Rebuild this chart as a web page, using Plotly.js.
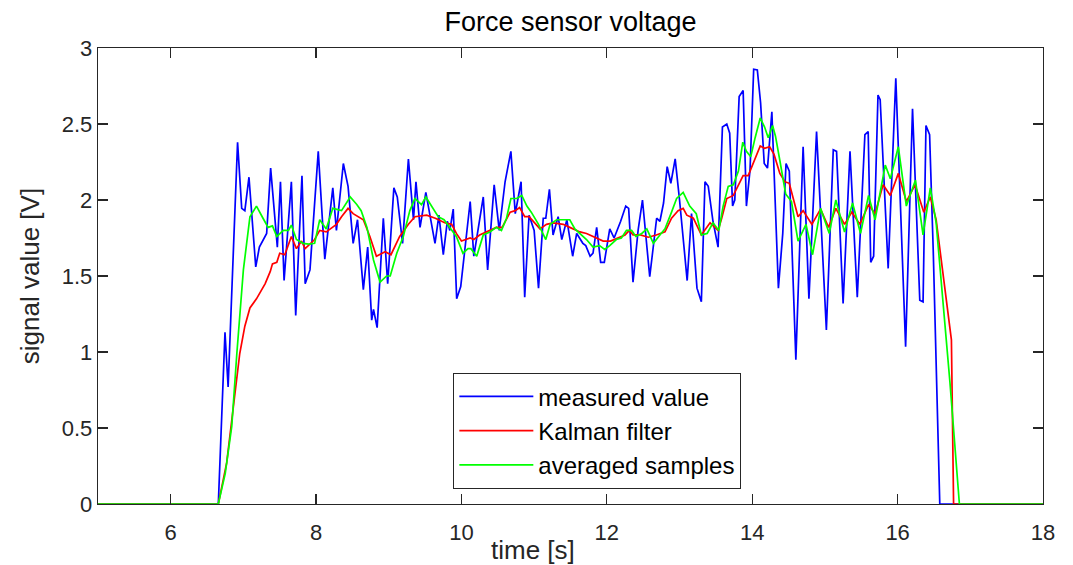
<!DOCTYPE html>
<html>
<head>
<meta charset="utf-8">
<script src="https://cdn.plot.ly/plotly-3.0.1.min.js"></script>
<style>
  html, body { margin: 0; padding: 0; background: #ffffff; }
  #chart { width: 1073px; height: 565px; }
</style>
</head>
<body>
<div id="chart"></div>
<script>
// ---- data ----
const measuredTime = [5, 6.655, 6.747, 6.79, 6.92, 6.977, 7.02, 7.077, 7.17, 7.22, 7.32, 7.375, 7.467, 7.51, 7.56, 7.66, 7.72, 7.806, 7.85, 7.916, 8.03, 8.12, 8.23, 8.28, 8.375, 8.44, 8.51, 8.57, 8.65, 8.71, 8.765, 8.79, 8.84, 8.925, 8.985, 9.07, 9.117, 9.19, 9.27, 9.34, 9.374, 9.43, 9.51, 9.636, 9.69, 9.75, 9.805, 9.84, 9.887, 9.934, 9.99, 10.12, 10.17, 10.30, 10.36, 10.45, 10.52, 10.60, 10.68, 10.74, 10.82, 10.87, 10.93, 11.00, 11.06, 11.125, 11.16, 11.21, 11.26, 11.33, 11.38, 11.45, 11.53, 11.585, 11.67, 11.71, 11.77, 11.81, 11.86, 11.915, 11.965, 12.04, 12.10, 12.19, 12.26, 12.30, 12.36, 12.43, 12.49, 12.59, 12.685, 12.73, 12.78, 12.83, 12.88, 12.94, 13.0, 13.105, 13.165, 13.24, 13.30, 13.35, 13.395, 13.46, 13.53, 13.59, 13.65, 13.69, 13.73, 13.76, 13.82, 13.875, 13.92, 13.97, 14.02, 14.07, 14.115, 14.165, 14.21, 14.27, 14.36, 14.42, 14.465, 14.51, 14.60, 14.70, 14.78, 14.885, 15.02, 15.115, 15.16, 15.25, 15.345, 15.445, 15.55, 15.595, 15.63, 15.67, 15.73, 15.76, 15.87, 15.975, 16.11, 16.205, 16.305, 16.35, 16.39, 16.44, 16.49, 16.58, 18];
const measuredValue = [0, 0, 1.13, 0.77, 2.38, 1.945, 1.93, 2.15, 1.56, 1.69, 1.78, 2.21, 1.69, 2.12, 1.47, 2.12, 1.24, 2.16, 1.45, 1.54, 2.32, 1.61, 2.08, 1.80, 2.24, 2.09, 1.715, 1.87, 1.41, 1.69, 1.21, 1.28, 1.16, 1.88, 1.45, 2.08, 2.02, 1.715, 2.27, 1.87, 2.12, 1.82, 2.05, 1.715, 1.90, 1.64, 1.86, 1.80, 1.94, 1.35, 1.43, 1.99, 1.63, 2.02, 1.54, 2.10, 1.80, 2.12, 2.32, 1.91, 2.12, 1.36, 1.90, 1.80, 1.42, 1.88, 1.88, 2.07, 1.77, 1.89, 1.74, 1.87, 1.63, 1.78, 1.715, 1.70, 1.63, 1.65, 1.82, 1.59, 1.59, 1.81, 1.75, 1.86, 1.96, 1.945, 1.46, 1.80, 2.00, 1.495, 1.88, 1.86, 1.98, 2.22, 2.11, 2.27, 2.0, 1.47, 1.91, 1.42, 1.33, 2.12, 2.09, 1.86, 1.69, 2.48, 2.50, 2.44, 1.96, 2.0, 2.68, 2.72, 1.96, 2.20, 2.86, 2.855, 2.64, 2.24, 2.21, 2.58, 1.42, 1.78, 2.24, 2.19, 0.95, 2.35, 1.35, 2.45, 1.145, 2.33, 2.32, 1.32, 2.32, 1.36, 2.43, 2.45, 1.59, 1.63, 2.69, 2.66, 1.55, 2.80, 1.035, 2.60, 1.34, 1.33, 2.49, 2.43, 1.67, 0, 0];

const kalmanTime = [5, 6.655, 6.77, 6.86, 6.95, 7.02, 7.09, 7.18, 7.30, 7.37, 7.40, 7.46, 7.50, 7.57, 7.66, 7.73, 7.80, 7.85, 7.98, 8.05, 8.14, 8.28, 8.35, 8.44, 8.51, 8.65, 8.74, 8.83, 8.95, 9.03, 9.15, 9.27, 9.36, 9.52, 9.64, 9.77, 9.865, 9.93, 10.0, 10.12, 10.17, 10.25, 10.39, 10.48, 10.56, 10.67, 10.74, 10.80, 10.87, 10.93, 11.08, 11.17, 11.26, 11.40, 11.49, 11.63, 11.72, 11.81, 11.95, 12.05, 12.16, 12.25, 12.31, 12.36, 12.46, 12.57, 12.68, 12.80, 12.89, 12.98, 13.05, 13.10, 13.19, 13.30, 13.42, 13.53, 13.58, 13.65, 13.74, 13.81, 13.875, 13.945, 14.04, 14.11, 14.17, 14.24, 14.30, 14.38, 14.45, 14.51, 14.63, 14.70, 14.82, 14.94, 15.05, 15.15, 15.27, 15.37, 15.48, 15.60, 15.69, 15.80, 15.90, 16.01, 16.12, 16.24, 16.36, 16.45, 16.53, 16.74, 16.77, 18];
const kalmanValue = [0, 0, 0.27, 0.62, 0.99, 1.17, 1.29, 1.35, 1.45, 1.53, 1.58, 1.59, 1.65, 1.64, 1.76, 1.68, 1.73, 1.68, 1.74, 1.80, 1.79, 1.84, 1.89, 1.945, 1.91, 1.87, 1.76, 1.63, 1.66, 1.64, 1.76, 1.84, 1.89, 1.90, 1.88, 1.85, 1.84, 1.78, 1.73, 1.75, 1.74, 1.77, 1.80, 1.82, 1.82, 1.92, 1.93, 1.95, 1.89, 1.89, 1.81, 1.84, 1.85, 1.84, 1.82, 1.79, 1.78, 1.76, 1.73, 1.73, 1.75, 1.77, 1.80, 1.77, 1.77, 1.755, 1.77, 1.79, 1.88, 1.93, 1.945, 1.90, 1.88, 1.77, 1.85, 1.80, 1.88, 2.01, 2.03, 2.10, 2.16, 2.16, 2.27, 2.355, 2.34, 2.35, 2.30, 2.175, 2.12, 2.11, 1.89, 1.93, 1.84, 1.94, 1.82, 1.945, 1.84, 1.92, 1.84, 1.97, 1.91, 2.10, 2.03, 2.175, 1.99, 2.10, 1.92, 2.02, 1.87, 1.08, 0, 0];

const averagedTime = [5, 6.655, 6.75, 6.84, 6.91, 7.0, 7.09, 7.18, 7.27, 7.34, 7.40, 7.46, 7.55, 7.62, 7.66, 7.73, 7.82, 7.90, 7.98, 8.05, 8.14, 8.23, 8.35, 8.47, 8.56, 8.62, 8.70, 8.79, 8.88, 8.97, 9.02, 9.11, 9.20, 9.29, 9.36, 9.45, 9.51, 9.59, 9.68, 9.76, 9.84, 9.93, 10.02, 10.09, 10.13, 10.21, 10.30, 10.39, 10.48, 10.55, 10.62, 10.68, 10.76, 10.83, 10.90, 10.96, 11.06, 11.16, 11.22, 11.31, 11.40, 11.49, 11.56, 11.63, 11.72, 11.81, 11.90, 11.97, 12.04, 12.13, 12.20, 12.27, 12.34, 12.40, 12.48, 12.55, 12.64, 12.73, 12.80, 12.89, 12.96, 13.05, 13.14, 13.23, 13.30, 13.38, 13.46, 13.54, 13.60, 13.67, 13.74, 13.81, 13.87, 13.92, 13.98, 14.04, 14.11, 14.17, 14.22, 14.28, 14.32, 14.38, 14.46, 14.54, 14.63, 14.74, 14.83, 14.94, 15.06, 15.15, 15.27, 15.38, 15.49, 15.60, 15.69, 15.83, 15.90, 16.01, 16.12, 16.245, 16.35, 16.45, 16.53, 16.72, 16.85, 18];
const averagedValue = [0, 0, 0.20, 0.51, 0.99, 1.54, 1.89, 1.96, 1.88, 1.82, 1.83, 1.76, 1.80, 1.80, 1.835, 1.74, 1.715, 1.71, 1.715, 1.87, 1.81, 1.945, 1.93, 2.02, 1.97, 1.93, 1.82, 1.605, 1.46, 1.50, 1.50, 1.65, 1.76, 1.93, 2.01, 1.97, 2.02, 1.96, 1.89, 1.87, 1.82, 1.76, 1.65, 1.68, 1.68, 1.63, 1.77, 1.79, 1.82, 1.80, 1.88, 2.01, 2.01, 2.03, 1.96, 1.92, 1.84, 1.74, 1.84, 1.87, 1.87, 1.87, 1.81, 1.78, 1.74, 1.69, 1.70, 1.675, 1.70, 1.74, 1.75, 1.80, 1.80, 1.76, 1.78, 1.81, 1.715, 1.77, 1.81, 1.92, 2.01, 2.05, 1.96, 1.91, 1.77, 1.78, 1.85, 1.80, 1.96, 2.09, 2.10, 2.19, 2.38, 2.32, 2.285, 2.41, 2.54, 2.48, 2.41, 2.49, 2.42, 2.26, 2.04, 1.99, 1.73, 1.84, 1.64, 1.945, 1.78, 2.0, 1.79, 1.98, 1.78, 2.03, 1.87, 2.23, 2.14, 2.35, 1.96, 2.13, 1.77, 2.08, 1.85, 0.80, 0, 0];

const seriesNames = ['measured value', 'Kalman filter', 'averaged samples'];
const xTicks = [6, 8, 10, 12, 14, 16, 18];
const yTicks = [0, 0.5, 1, 1.5, 2, 2.5, 3];
const chartTitle = 'Force sensor voltage';
const xLabel = 'time [s]';
const yLabel = 'signal value [V]';

// ---- drawing ----
const FONT = '"Liberation Sans", Arial, Helvetica, sans-serif';
const AX = '#262626';

const traces = [
  { x: measuredTime, y: measuredValue, name: seriesNames[0], type: 'scatter', mode: 'lines',
    line: { color: '#0000ff', width: 1.7 } },
  { x: kalmanTime, y: kalmanValue, name: seriesNames[1], type: 'scatter', mode: 'lines',
    line: { color: '#ff0000', width: 1.7 } },
  { x: averagedTime, y: averagedValue, name: seriesNames[2], type: 'scatter', mode: 'lines',
    line: { color: '#00ff00', width: 1.7 } }
];

const axisCommon = {
  showgrid: false, zeroline: false, showline: true, mirror: 'ticks',
  linecolor: AX, linewidth: 1.3, ticks: 'inside', ticklen: 10, tickwidth: 1.3, tickcolor: AX,
  tickfont: { family: FONT, size: 22, color: AX }
};

const layout = {
  width: 1073, height: 565,
  paper_bgcolor: '#ffffff', plot_bgcolor: '#ffffff',
  margin: { l: 98, r: 30, t: 48, b: 61 },
  font: { family: FONT, color: AX },
  title: { text: chartTitle, x: 0.5, xref: 'paper', y: 0.962, yref: 'container', yanchor: 'middle',
           font: { family: FONT, size: 27, color: '#000000' } },
  xaxis: Object.assign({}, axisCommon, {
    range: [5, 18], tickvals: xTicks, ticktext: xTicks.map(String), ticklabelstandoff: 8
  }),
  yaxis: Object.assign({}, axisCommon, {
    range: [0, 3], tickvals: yTicks, ticktext: yTicks.map(String),
    title: { text: yLabel, standoff: 14, font: { family: FONT, size: 26, color: AX } }
  }),
  annotations: [
    { text: xLabel, xref: 'paper', x: 0.46, yref: 'paper', y: -46 / 456, xanchor: 'center', yanchor: 'middle',
      showarrow: false, font: { family: FONT, size: 26, color: AX } }
  ],
  showlegend: true,
  legend: {
    x: 0.3757, y: 0.2873, xanchor: 'left', yanchor: 'top',
    bgcolor: '#ffffff', bordercolor: AX, borderwidth: 1.3,
    font: { family: FONT, size: 24, color: '#000000' },
    itemwidth: 74, tracegroupgap: 0
  }
};

Plotly.newPlot('chart', traces, layout, { staticPlot: true, displayModeBar: false });
</script>
</body>
</html>
